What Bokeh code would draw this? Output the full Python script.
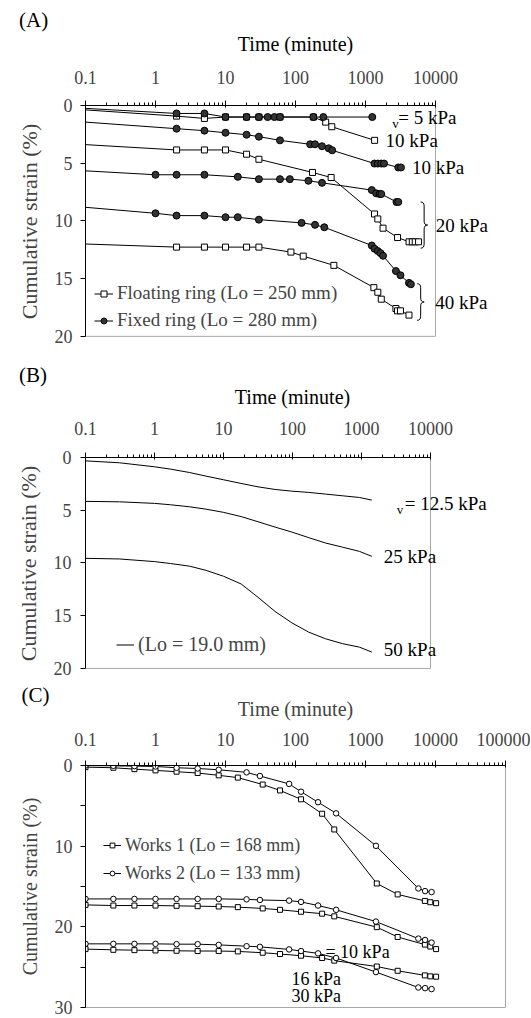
from bokeh.plotting import figure
from bokeh.models import (Range1d, FixedTicker, Label, Legend, LegendItem,
                          CustomJSTickFormatter, Title)
from bokeh.layouts import column
from bokeh.embed import file_html
from bokeh.resources import INLINE
import math

FONT = "Liberation Serif"

# ---------------- data ----------------
XTICKS_AB = [0.1, 1, 10, 100, 1000, 10000]
XTICK_LABELS_AB = ["0.1", "1", "10", "100", "1000", "10000"]
XTICKS_C = [0.1, 1, 10, 100, 1000, 10000, 100000]
XTICK_LABELS_C = ["0.1", "1", "10", "100", "1000", "10000", "100000"]
YTICKS_AB = [0, 5, 10, 15, 20]
YTICKS_C = [0, 10, 20, 30]
YMINOR_C = [5, 15, 25]

# Panel A - floating ring (squares)
FLOAT_T1 = [0.1, 2, 5, 10, 20, 30, 60, 180, 270, 330, 1350]
FLOAT_S1 = [0.38, 0.92, 1.12, 1.0, 1.0, 1.0, 1.0, 1.0, 1.44, 1.84, 3.02]
FLOAT_T2 = [0.1, 2, 5, 10, 20, 30, 175, 323, 1345, 1500, 1780, 2870, 4190, 4660, 5130, 5730]
FLOAT_S2 = [3.39, 3.85, 3.85, 3.85, 4.22, 4.66, 5.80, 6.24, 9.40, 9.83, 10.63, 11.44, 11.81, 11.81, 11.81, 11.81]
FLOAT_T3 = [0.1, 2, 5, 10, 20, 30, 86, 129, 353, 1316, 1500, 1680, 2720, 2870, 3160, 4180]
FLOAT_S3 = [12.0, 12.27, 12.27, 12.27, 12.27, 12.27, 12.70, 13.05, 13.85, 15.78, 16.18, 16.78, 17.59, 17.79, 17.79, 18.16]
# Panel A - fixed ring (circles)
FIXED_T1 = [0.1, 2, 5, 10, 20, 30, 40, 50, 60, 180, 250, 1250]
FIXED_S1 = [0.25, 0.69, 0.69, 1.0, 1.0, 1.0, 1.0, 1.0, 1.0, 1.0, 1.0, 1.0]
FIXED_T2 = [0.1, 2, 5, 10, 20, 30, 60, 162, 190, 239, 298, 334, 1345, 1500, 1680, 1840, 2940, 3210]
FIXED_S2 = [1.44, 2.01, 2.18, 2.36, 2.53, 2.70, 3.02, 3.36, 3.36, 3.53, 3.71, 3.88, 5.03, 5.03, 5.03, 5.03, 5.37, 5.37]
FIXED_T3 = [0.1, 1, 2, 5, 15, 30, 60, 83, 153, 239, 1230, 1420, 1590, 1680, 2770, 2940]
FIXED_S3 = [5.66, 6.0, 6.0, 6.0, 6.18, 6.38, 6.38, 6.38, 6.52, 6.70, 7.33, 7.61, 7.67, 7.67, 8.36, 8.36]
FIXED_T4 = [0.1, 1, 2, 5, 10, 15, 30, 122, 190, 258, 1230, 1345, 1500, 1640, 1780, 2720, 3160, 4180, 4450]
FIXED_S4 = [8.82, 9.34, 9.54, 9.54, 9.68, 9.68, 9.89, 10.17, 10.34, 10.55, 12.13, 12.41, 12.61, 12.79, 13.02, 14.34, 14.71, 15.37, 15.49]

# Panel B - smooth curves
B_T = [0.1, 0.31, 1.0, 1.7, 3.2, 5.6, 10, 18, 31.6, 56, 98, 172, 302, 531, 933, 1412]
B_S125 = [0.32, 0.5, 0.88, 1.1, 1.42, 1.77, 2.11, 2.46, 2.78, 3.03, 3.19, 3.31, 3.47, 3.63, 3.79, 4.04]
B_S25 = [4.16, 4.2, 4.35, 4.48, 4.67, 4.9, 5.2, 5.6, 6.09, 6.6, 7.07, 7.6, 8.11, 8.5, 8.9, 9.37]
B_S50 = [9.56, 9.62, 9.87, 10.05, 10.3, 10.7, 11.26, 11.99, 13.25, 14.6, 15.68, 16.56, 17.19, 17.65, 17.98, 18.45]

# Panel C
C_T1 = [0.1, 0.25, 0.5, 1, 2, 4, 8, 15, 34, 60, 120, 240, 358, 1450, 2880, 7050, 8420, 10200]
C_T2 = [0.1, 0.25, 0.5, 1, 2, 4, 8, 20, 31, 81, 120, 210, 380, 1410, 5690, 7100, 8790]
W1_S1 = [0.2, 0.28, 0.45, 0.61, 0.77, 0.93, 1.22, 1.5, 2.36, 3.09, 4.19, 5.98, 7.93, 14.63, 15.98, 16.79, 16.95, 17.07]
W2_S1 = [0.0, 0.04, 0.08, 0.12, 0.28, 0.37, 0.53, 0.85, 1.3, 2.28, 3.25, 4.55, 5.93, 9.96, 15.24, 15.57, 15.69]
W1_S2 = [17.28, 17.36, 17.36, 17.36, 17.4, 17.44, 17.48, 17.56, 17.72, 17.89, 18.13, 18.37, 18.7, 20.04, 21.26, 22.2, 22.44, 22.76]
W2_S2 = [16.54, 16.54, 16.54, 16.54, 16.54, 16.54, 16.54, 16.59, 16.67, 16.75, 16.91, 17.36, 17.89, 19.35, 21.46, 21.63, 21.95]
W1_S3 = [22.76, 22.85, 22.89, 22.93, 22.97, 23.0, 23.0, 23.05, 23.21, 23.37, 23.58, 23.86, 24.19, 24.92, 25.45, 26.02, 26.14, 26.18]
W2_S3 = [22.11, 22.11, 22.11, 22.11, 22.15, 22.15, 22.24, 22.4, 22.48, 22.8, 23.0, 23.29, 23.86, 25.61, 27.52, 27.6, 27.72]

# C stage labels (position in data units)
C_LABELS = ["= 10 kPa", "16 kPa", "30 kPa"]
C_LABEL_T = [268, 88, 88]
C_LABEL_S = [23.1, 26.5, 28.55]

GRAY = "#a8a8a8"


def log_minor(lo_exp, hi_exp):
    return [m * 10 ** e for e in range(lo_exp, hi_exp) for m in range(2, 10)]


def make_fig(xmax, axis_max, yrange_max, ymax, fw, fh, left, right, top, bottom,
             xticks, xlabels, yticks, yminor, xstand, ystand, ylabstand,
             xlabel=None, xlabstand=10, tick_size="18px", ylab_size="22px"):
    p = figure(x_axis_type="log", x_axis_location="above",
               x_range=Range1d(0.1, xmax), y_range=Range1d(yrange_max, 0),
               frame_width=fw, frame_height=fh,
               min_border_left=left, min_border_right=right,
               min_border_top=top, min_border_bottom=bottom,
               toolbar_location=None, output_backend="svg")
    p.xgrid.visible = False
    p.ygrid.visible = False
    xa = p.xaxis[0]
    xa.bounds = (0.1, axis_max)
    xa.ticker = FixedTicker(ticks=xticks,
                            minor_ticks=log_minor(-1, int(round(math.log10(axis_max)))))
    xa.formatter = CustomJSTickFormatter(args=dict(tv=xticks, labs=xlabels), code="""
        for (let i = 0; i < tv.length; i++) {
            if (Math.abs(Math.log10(tv[i]) - Math.log10(tick)) < 1e-6) return labs[i];
        }
        return '';
    """)
    if xlabel:
        xa.axis_label = xlabel
        xa.axis_label_text_font = FONT
        xa.axis_label_text_font_size = "20px"
        xa.axis_label_text_font_style = "normal"
        xa.axis_label_standoff = xlabstand
    xa.major_label_text_font = FONT
    xa.major_label_text_font_size = tick_size
    xa.major_label_standoff = xstand
    xa.major_tick_out = 5
    xa.major_tick_in = 2
    xa.minor_tick_out = 3
    xa.minor_tick_in = 0
    xa.axis_line_color = "black"
    xa.major_tick_line_color = "black"
    xa.minor_tick_line_color = "black"
    ya = p.yaxis[0]
    ya.bounds = (0, ymax)
    ya.ticker = FixedTicker(ticks=yticks, minor_ticks=yminor)
    ya.axis_label = "Cumulative strain (%)"
    ya.axis_label_text_font = FONT
    ya.axis_label_text_font_size = ylab_size
    ya.axis_label_text_font_style = "normal"
    ya.axis_label_standoff = ylabstand
    ya.major_label_text_font = FONT
    ya.major_label_text_font_size = tick_size
    ya.major_label_standoff = ystand
    ya.major_tick_out = 5
    ya.major_tick_in = 0
    ya.minor_tick_out = 5 if yminor else 0
    ya.minor_tick_in = 0
    ya.axis_line_color = "black"
    ya.major_tick_line_color = "black"
    ya.minor_tick_line_color = "black"
    return p


def add_title(p, text, size, align, offset, standoff):
    p.add_layout(Title(text=text, align=align, offset=offset, standoff=standoff,
                       text_font=FONT, text_font_size=size, text_font_style="normal",
                       text_color="black"), "above")


def frame_border(p, xmax, ymax):
    # right and bottom edge of the plotting box (drawn at the axis limits)
    p.segment(x0=[xmax, 0.1], y0=[0, ymax], x1=[xmax, xmax], y1=[ymax, ymax],
              line_color=GRAY, line_width=1)


def label(p, x, y, text, size="19px", xo=0, yo=0):
    p.add_layout(Label(x=x, y=y, x_offset=xo, y_offset=yo,
                       text=text, text_font=FONT, text_font_size=size,
                       text_baseline="middle", text_align="left", text_color="black"))


def brace(p, t_left, y_top, y_bot, w=0.1, r=0.35):
    l0 = math.log10(t_left)
    x0 = 10 ** l0
    xh = 10 ** (l0 + w / 2)
    xt = 10 ** (l0 + w)
    ym = (y_top + y_bot) / 2
    p.quadratic(x0=[x0, xh, xt, xh], y0=[y_top, ym - r, ym, y_bot - r],
                x1=[xh, xt, xh, x0], y1=[y_top + r, ym, ym + r, y_bot],
                cx=[xh, xh, xh, xh], cy=[y_top, ym, ym, y_bot],
                line_color="black", line_width=1)
    p.segment(x0=[xh, xh], y0=[y_top + r, ym + r], x1=[xh, xh], y1=[ym - r, y_bot - r],
              line_color="black", line_width=1)
    return xt, ym


# ---------------- Panel A ----------------
pA = make_fig(100000, 10000, 20.1, 20, 420, 232, 80, 20, 105, 12,
              XTICKS_AB, XTICK_LABELS_AB, YTICKS_AB, [], xstand=17, ystand=8, ylabstand=10)
pA.outline_line_color = None
add_title(pA, "Time (minute)", "20px", "center", -38, 25)
add_title(pA, "(A)", "21px", "left", -66.5, -26)
frame_border(pA, 10000, 20)

float_sets = [(FLOAT_T1, FLOAT_S1), (FLOAT_T2, FLOAT_S2), (FLOAT_T3, FLOAT_S3)]
fixed_sets = [(FIXED_T1, FIXED_S1), (FIXED_T2, FIXED_S2), (FIXED_T3, FIXED_S3), (FIXED_T4, FIXED_S4)]
lines_f, lines_x, sc_f, sc_x = [], [], [], []
for t, s in float_sets:
    lines_f.append(pA.line(t, s, line_color="black", line_width=1))
for t, s in fixed_sets:
    lines_x.append(pA.line(t, s, line_color="black", line_width=1))
for t, s in float_sets:
    sc_f.append(pA.scatter(t[1:], s[1:], marker="square", size=6, fill_color="white",
                           line_color="black", line_width=1))
for t, s in fixed_sets:
    sc_x.append(pA.scatter(t[1:], s[1:], marker="circle", size=7, fill_color="#333333",
                           line_color="black", line_width=1))

legA = Legend(items=[LegendItem(label="Floating ring (Lo = 250 mm)", renderers=[lines_f[0], sc_f[0]]),
                     LegendItem(label="Fixed ring (Lo = 280 mm)", renderers=[lines_x[0], sc_x[0]])],
              location=(9, 6), label_text_font=FONT, label_text_font_size="19px",
              glyph_width=19, glyph_height=15, label_height=22, label_standoff=4,
              spacing=5, padding=0, margin=0, border_line_alpha=0, background_fill_alpha=0)
pA.add_layout(legA)

label(pA, FIXED_T1[-1], FIXED_S1[-1], "v", size="13px", xo=20, yo=-6)
label(pA, FIXED_T1[-1], FIXED_S1[-1], "= 5 kPa", xo=26)
label(pA, FLOAT_T1[-1], FLOAT_S1[-1], "10 kPa", xo=11)
label(pA, FIXED_T2[-1], FIXED_S2[-1], "10 kPa", xo=11)
xt, ym = brace(pA, FLOAT_T2[-1] * 1.07, FIXED_S3[-1], FLOAT_S2[-1] + 0.55)
label(pA, xt, ym, "20 kPa", xo=8)
xt, ym = brace(pA, FIXED_T4[-1] * 1.23, FIXED_S4[-1] - 0.05, FLOAT_S3[-1] + 0.45)
label(pA, xt, ym, "40 kPa", xo=11)

# ---------------- Panel B ----------------
pB = make_fig(100000, 10000, 20.1, 20, 414, 212, 85, 20, 108, 11,
              XTICKS_AB, XTICK_LABELS_AB, YTICKS_AB, [], xstand=18, ystand=9, ylabstand=10)
pB.outline_line_color = None
add_title(pB, "Time (minute)", "20px", "center", -34, 21)
add_title(pB, "(B)", "21px", "left", -66.4, -26)
frame_border(pB, 10000, 20)
lb = []
for s in (B_S125, B_S25, B_S50):
    lb.append(pB.line(B_T, s, line_color="black", line_width=1))
legB = Legend(items=[LegendItem(label="(Lo = 19.0 mm)", renderers=[lb[0]])],
              location=(31, 13), label_text_font=FONT, label_text_font_size="20px",
              glyph_width=18, glyph_height=15, label_height=22, label_standoff=4,
              spacing=0, padding=0, margin=0, border_line_alpha=0, background_fill_alpha=0)
pB.add_layout(legB)
label(pB, B_T[-1], B_S125[-1], "v", size="13px", xo=25, yo=-9)
label(pB, B_T[-1], B_S125[-1], "= 12.5 kPa", xo=33, yo=-3)
label(pB, B_T[-1], B_S25[-1], "25 kPa", xo=12)
label(pB, B_T[-1], B_S50[-1], "50 kPa", xo=12, yo=3)

# ---------------- Panel C ----------------
pC = make_fig(100000, 100000, 30, 30, 420, 242, 78, 32, 85, 11,
              XTICKS_C, XTICK_LABELS_C, YTICKS_C, YMINOR_C, xstand=15, ystand=8,
              ylabstand=11, xlabel="Time (minute)", xlabstand=10, ylab_size="20px")
pC.outline_line_color = GRAY
add_title(pC, "(C)", "21px", "left", -64, -25)
w1_sets = [W1_S1, W1_S2, W1_S3]
w2_sets = [W2_S1, W2_S2, W2_S3]
l1, l2, s1, s2 = [], [], [], []
for s in w1_sets:
    l1.append(pC.line(C_T1, s, line_color="black", line_width=1))
for s in w2_sets:
    l2.append(pC.line(C_T2, s, line_color="black", line_width=1))
for s in w1_sets:
    s1.append(pC.scatter(C_T1, s, marker="square", size=5, fill_color="white",
                         line_color="black", line_width=1))
for s in w2_sets:
    s2.append(pC.scatter(C_T2, s, marker="circle", size=5.5, fill_color="white",
                         line_color="black", line_width=1))
legC = Legend(items=[LegendItem(label="Works 1 (Lo = 168 mm)", renderers=[l1[0], s1[0]]),
                     LegendItem(label="Works 2 (Lo = 133 mm)", renderers=[l2[0], s2[0]])],
              location=(18, 123), label_text_font=FONT, label_text_font_size="18px",
              glyph_width=18, glyph_height=12, label_height=22, label_standoff=4,
              spacing=6, padding=0, margin=0, border_line_alpha=0, background_fill_alpha=0)
pC.add_layout(legC)
for txt, t, s in zip(C_LABELS, C_LABEL_T, C_LABEL_S):
    label(pC, t, s, txt, size="18px")

layout = column(pA, pB, pC, spacing=0)
open("out.html", "w").write(file_html(layout, INLINE))
